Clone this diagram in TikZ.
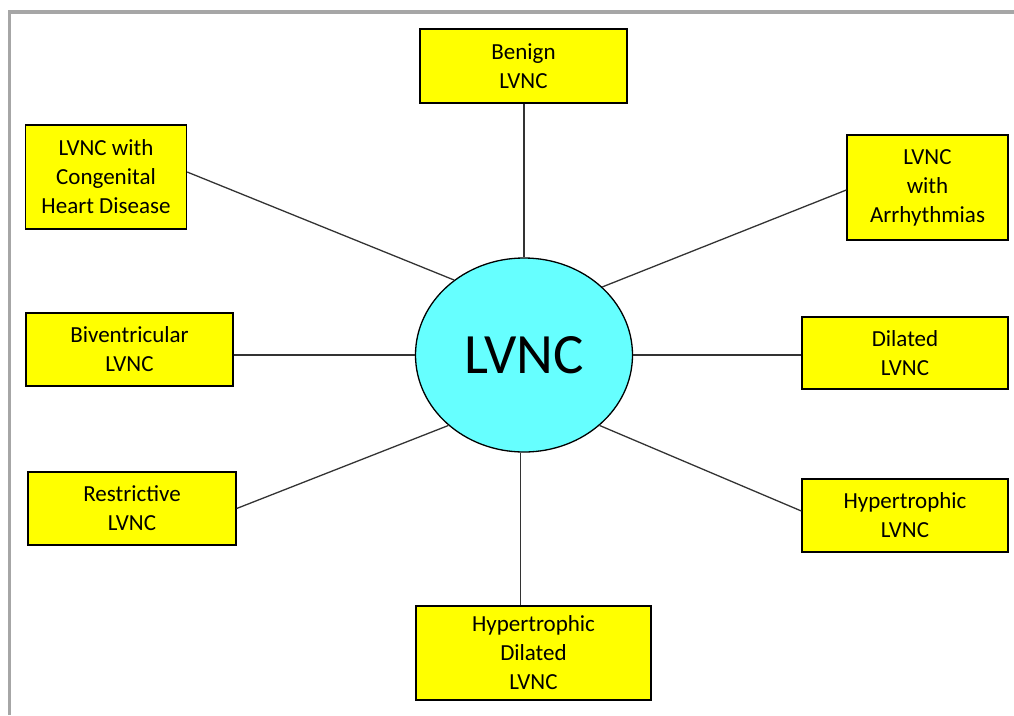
\documentclass[tikz,border=0pt]{standalone}
\usepackage{fontspec}
\setmainfont{Carlito}
\usetikzlibrary{shapes.geometric}
\definecolor{boxyellow}{HTML}{FFFF00}
\definecolor{centercyan}{HTML}{66FFFF}
\definecolor{framegray}{HTML}{A6A6A6}
\definecolor{spokegray}{HTML}{333333}
\tikzset{
  typebox/.style={rectangle, draw=black, line width=1.3pt, fill=boxyellow,
    align=center, inner sep=0pt, font=\fontsize{23}{29}\selectfont},
  spoke/.style={draw=spokegray, line width=1.3pt}
}
\begin{document}
\begin{tikzpicture}[x=1pt, y=-1pt]
    \useasboundingbox (0,0) rectangle (1014,715);
    \draw[framegray, line width=3.5pt] (9.5,715) -- (9.5,12) -- (1014,12);

    \node[ellipse, draw=black, line width=1.3pt, fill=centercyan, minimum width=217pt,
      minimum height=194pt, inner sep=0pt, font=\fontsize{57}{60}\selectfont] at (524, 355) (main) {LVNC};

    \node[typebox, minimum width=207pt, minimum height=74pt] at (523.5, 66) (benign) {Benign\\LVNC};
    \node[typebox, minimum width=161pt, minimum height=104pt] at (106, 177) (chd) {LVNC with\\Congenital\\Heart Disease};
    \node[typebox, minimum width=161pt, minimum height=105pt] at (927.5, 187.5) (arrhythmia) {LVNC\\with\\Arrhythmias};
    \node[typebox, minimum width=207pt, minimum height=73pt] at (129.5, 349.5) (biventricular) {Biventricular\\LVNC};
    \node[typebox, minimum width=206pt, minimum height=72pt] at (905, 353) (dilated) {Dilated\\LVNC};
    \node[typebox, minimum width=208pt, minimum height=73pt] at (132, 508.5) (restrictive) {Restrictive\\LVNC};
    \node[typebox, minimum width=206pt, minimum height=73pt] at (905, 515.5) (hypertrophic) {Hypertrophic\\LVNC};
    \node[typebox, minimum width=235pt, minimum height=94pt] at (533.5, 653) (hypdilated) {Hypertrophic\\Dilated\\LVNC};

    \draw[spoke] (benign.south -| main.north) -- (main.north);
    \draw[spoke] ([yshift=5pt]chd.east) -- (main.133);
    \draw[spoke] ([yshift=-2.5pt]arrhythmia.west) -- (main.41);
    \draw[spoke] (main.west -| biventricular.east) -- (main.west);
    \draw[spoke] (main.east) -- (main.east -| dilated.west);
    \draw[spoke] (restrictive.east) -- (main.223);
    \draw[spoke] ([yshift=4.5pt]hypertrophic.west) -- (main.317);
    \draw[spoke] (main.268) -- (main.268 |- hypdilated.north);
\end{tikzpicture}
\end{document}
